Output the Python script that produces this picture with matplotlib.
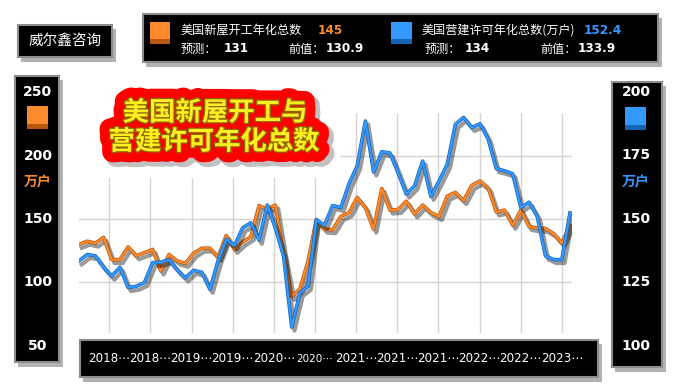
import numpy as np
import matplotlib.pyplot as plt
import matplotlib.patches as mpatches
import matplotlib.patheffects as pe

plt.rcParams['font.family'] = ['Noto Sans CJK SC', 'DejaVu Sans']

# 月度数据 2018-02 ~ 2023-02 (首值)
starts = [130, 132.5, 131, 135.5, 118, 118, 128, 121, 123.5, 126,
          109, 122, 117, 115, 123, 127, 127, 120, 137, 126,
          132, 136, 160.5, 158, 161, 122, 89, 95, 117, 149.6,
          142, 141.5, 152, 155, 167, 159, 142, 174, 157, 157.5,
          164, 154, 161, 155, 152, 168, 171, 164.5, 176.5, 180,
          174.5, 155.5, 157, 145, 157, 144, 143, 142.5, 138.5, 131,
          145]
permits = [133.5, 136, 135.5, 131, 127.5, 131, 123, 123.5, 125, 132.8,
           133, 134, 130, 126.8, 129.8, 129, 122.3, 133.6, 142, 139.5,
           146.5, 148.5, 141.6, 155.5, 146.4, 135.3, 107.4, 121, 123.5, 149.7,
           147.5, 155.3, 154.5, 163.9, 170.9, 188.6, 168.5, 176.5, 176, 168.1,
           159.8, 163, 172.8, 158.9, 165, 171.5, 187.3, 190, 186, 187.5,
           181.5, 169.8, 169, 167.8, 154.5, 156.6, 151, 135.5, 134, 134,
           152.4]
x_labels = ['2018', '2018', '2019', '2019', '2020', '2020',
            '2021', '2021', '2021', '2022', '2022', '2023']
left_ticks = [250, 200, 150, 100, 50]
right_ticks = [200, 175, 150, 125, 100]
title_lines = ['美国新屋开工与', '营建许可年化总数']

ORANGE = '#fa8a2c'
ORANGE_D = '#b8560e'
BLUE = '#3399ff'
BLUE_D = '#1664b4'

W, H = 674, 392
fig = plt.figure(figsize=(W / 100, H / 100), dpi=100)


def fx(x):
    return x / W


def fy(y):
    return 1 - y / H


def rect(x0, y0, x1, y1, **kw):
    r = mpatches.Rectangle((fx(x0), fy(y1)), (x1 - x0) / W, (y1 - y0) / H,
                           transform=fig.transFigure, **kw)
    fig.add_artist(r)
    return r


def shadow(x0, y0, x1, y1):
    rect(x0 + 3, y0 + 4, x1 + 4, y1 + 5, facecolor='#555555', alpha=0.45,
         lw=0, zorder=0.5)


def black_box(x0, y0, x1, y1):
    shadow(x0, y0, x1, y1)
    rect(x0, y0, x1, y1, facecolor='black', edgecolor='#8c8c8c', lw=1.5,
         zorder=1)


def box_axes(x0, y0, x1, y1):
    shadow(x0, y0, x1, y1)
    a = fig.add_axes([fx(x0), fy(y1), (x1 - x0) / W, (y1 - y0) / H])
    a.set_facecolor('black')
    a.set_zorder(2)
    a.set_xticks([])
    a.set_yticks([])
    for s in a.spines.values():
        s.set_color('#8c8c8c')
        s.set_linewidth(1.5)
    return a


# 主图
PX0, PX1, PY0, PY1 = 79, 572, 113, 333
DX = 8.183  # 每月像素
ax = fig.add_axes([fx(PX0), fy(PY1), (PX1 - PX0) / W, (PY1 - PY0) / H])
ax.set_xlim(0, (PX1 - PX0) / DX)
ax.set_ylim(60.2, 233.5)
ax2 = ax.twinx()
ax2.set_ylim(105.1, 191.75)

tick_pos = np.linspace(3.7, 59.0, len(x_labels))
ax.set_xticks(tick_pos)
ax.set_yticks([100, 150, 200])
ax.grid(color='#d4d4d4', lw=1)
ax.tick_params(length=0, labelleft=False, labelbottom=False)
ax2.tick_params(length=0, labelright=False)
for a in (ax, ax2):
    for s in a.spines.values():
        s.set_visible(False)

x = np.arange(len(starts))
ax.plot(x, starts, color=ORANGE, lw=1.6, solid_joinstyle='round',
        path_effects=[pe.SimpleLineShadow(offset=(2, -2.5), shadow_color='black',
                                          alpha=0.4, linewidth=3),
                      pe.Stroke(linewidth=2.6, foreground=ORANGE_D),
                      pe.Normal()])
ax2.plot(x, permits, color=BLUE, lw=1.6, solid_joinstyle='round',
         path_effects=[pe.SimpleLineShadow(offset=(2, -2.5), shadow_color='black',
                                           alpha=0.4, linewidth=3),
                       pe.Stroke(linewidth=2.6, foreground=BLUE_D),
                       pe.Normal()])

# 标题：先画红色底，再画黄字
rect(79, 98, 340, 178, facecolor='white', lw=0, zorder=1.5)
bg_fx = [pe.Stroke(linewidth=16, foreground='#777777', alpha=0.45, offset=(3, -3)),
         pe.Stroke(linewidth=15, foreground='#ff0000'),
         pe.Normal()]
fg_fx = [pe.Stroke(linewidth=1.8, foreground='#8a6a00'), pe.Normal()]
title_pos = [(215, 113), (214, 142)]
for (tx, ty), s in zip(title_pos, title_lines):
    fig.text(fx(tx), fy(ty), s, ha='center', va='center', fontsize=19,
             color='#ff0000', weight='bold', zorder=3, path_effects=bg_fx)
for (tx, ty), s in zip(title_pos, title_lines):
    fig.text(fx(tx), fy(ty), s, ha='center', va='center', fontsize=19,
             color='#ffee22', weight='bold', zorder=3.5, path_effects=fg_fx)

# 左上角
black_box(18, 25, 112, 57)
fig.text(fx(65), fy(41), '威尔鑫咨询', ha='center', va='center', fontsize=10.5,
         color='white', zorder=3)

# 图例
black_box(143, 14, 658, 62)
rect(150, 22, 170, 44, facecolor=ORANGE, lw=0, zorder=2)
rect(150, 39, 170, 44, facecolor=ORANGE_D, lw=0, zorder=2)
rect(391, 22, 412, 44, facecolor=BLUE, lw=0, zorder=2)
rect(391, 39, 412, 44, facecolor=BLUE_D, lw=0, zorder=2)
leg = [(180, 30, '美国新屋开工年化总数', 'white', 'normal'),
       (318, 30, '145', ORANGE, 'bold'),
       (180, 49, '预测：', 'white', 'normal'),
       (224, 49, '131', 'white', 'bold'),
       (288, 49, '前值：', 'white', 'normal'),
       (326, 49, '130.9', 'white', 'bold'),
       (421, 30, '美国营建许可年化总数(万户)', 'white', 'normal'),
       (584, 30, '152.4', BLUE, 'bold'),
       (424, 49, '预测：', 'white', 'normal'),
       (465, 49, '134', 'white', 'bold'),
       (540, 49, '前值：', 'white', 'normal'),
       (578, 49, '133.9', 'white', 'bold')]
for lx, ly, s, c, w in leg:
    fam = ['DejaVu Sans'] if w == 'bold' else ['Noto Sans CJK SC', 'DejaVu Sans']
    fig.text(fx(lx), fy(ly), s, ha='left', va='center', fontsize=8.7,
             color=c, weight=w, family=fam, zorder=3)

# 左轴
axL = box_axes(15, 76, 59, 362)
axL.set_xlim(0, 1)
axL.set_ylim(37.4, 262.6)
for v in left_ticks:
    axL.text(0.52, v, str(v), ha='center', va='center', color='white',
             fontsize=10, weight='bold', family=['DejaVu Sans'])
axL.add_patch(mpatches.Rectangle((0.27, 221), 0.48, 18, facecolor=ORANGE, lw=0))
axL.add_patch(mpatches.Rectangle((0.27, 221), 0.48, 4, facecolor=ORANGE_D, lw=0))
axL.text(0.52, 179, '万户', ha='center', va='center', color=ORANGE,
         fontsize=10, weight='bold')

# 右轴
axR = box_axes(612, 82, 662, 367)
axR.set_xlim(0, 1)
axR.set_ylim(91.7, 203.9)
for v in right_ticks:
    axR.text(0.48, v, str(v), ha='center', va='center', color='white',
             fontsize=10, weight='bold', family=['DejaVu Sans'])
axR.add_patch(mpatches.Rectangle((0.26, 185), 0.42, 9, facecolor=BLUE, lw=0))
axR.add_patch(mpatches.Rectangle((0.26, 185), 0.42, 2, facecolor=BLUE_D, lw=0))
axR.text(0.48, 164.2, '万户', ha='center', va='center', color=BLUE,
         fontsize=10, weight='bold')

# X轴标签
axX = box_axes(80, 340, 598, 377)
axX.set_xlim((80 - PX0) / DX, (598 - PX0) / DX)
axX.set_ylim(0, 1)
for i, (t, lbl) in enumerate(zip(tick_pos, x_labels)):
    axX.text(t, 0.5, lbl + '\u22ef', ha='center', va='center', color='white',
             fontsize=7.5 if i == 5 else 8.6, family=['DejaVu Sans'])

fig.savefig('out.png', dpi=100, facecolor='white')
